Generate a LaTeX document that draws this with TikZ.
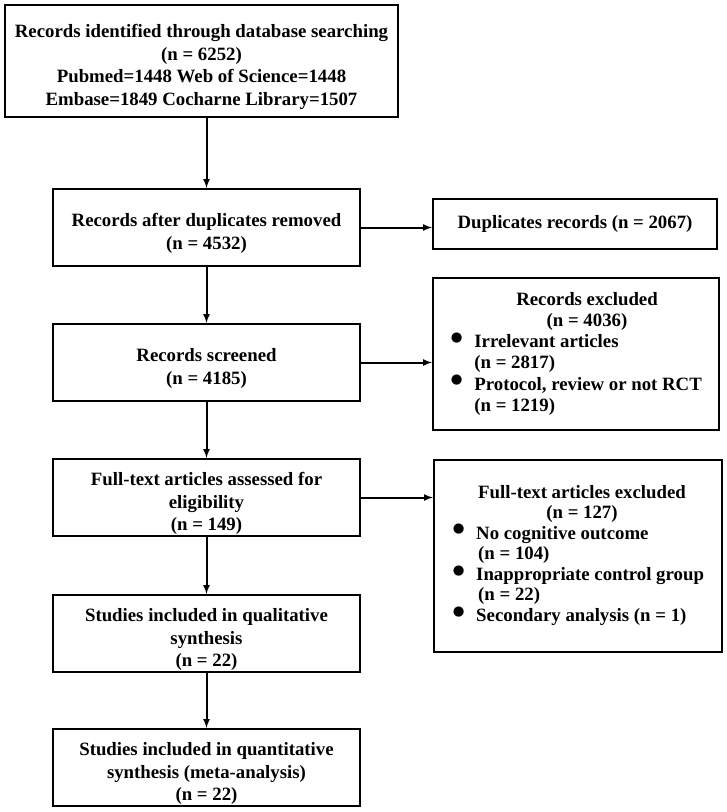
\documentclass[tikz,border=0pt]{standalone}
\usepackage{fontspec}
\setmainfont{Liberation Serif}
\usepackage{tikz}
\usetikzlibrary{arrows}
\newcommand{\blt}{\raisebox{-2.5bp}{\scalebox{2}{\textbullet}}}
\newcommand{\lift}{\rule{0pt}{25bp}}

\begin{document}
\begin{tikzpicture}[x=1bp,y=1bp]
        \tikzstyle{every node}+=[inner sep=0pt]
        \tikzstyle{box}=[draw=black, line width=2.2bp, align=center, font=\bfseries\fontsize{18.8bp}{22.6bp}\selectfont]
        \tikzstyle{stage}=[box, minimum width=307bp, minimum height=77bp]
        \tikzstyle{link}=[black, line width=2bp, -latex]
        \useasboundingbox (0,0) rectangle (727,-812);
        \node [box, minimum width=393bp, minimum height=112bp] (ident) at (201.5,-61) {\lift Records identified through database searching\\(n = 6252)\\Pubmed=1448 Web of Science=1448\\Embase=1849 Cocharne Library=1507};
        \node [stage] (dedup) at (206.5,-227.5) {\lift Records after duplicates removed\\(n = 4532)};
        \node [stage] (screen) at (206.5,-362.5) {\lift Records screened\\(n = 4185)};
        \node [stage] (full) at (206.5,-497.5) {\lift Full-text articles assessed for\\eligibility\\(n = 149)};
        \node [stage] (qual) at (206.5,-633.5) {\lift Studies included in qualitative\\synthesis\\(n = 22)};
        \node [stage] (quant) at (206.5,-767.5) {\lift Studies included in quantitative\\synthesis (meta-analysis)\\(n = 22)};
        \node [box, minimum width=284bp, minimum height=50bp] (dup) at (575,-224) {Duplicates records (n = 2067)};
        \node [box, minimum width=286bp, minimum height=152bp] (excl) at (576,-354) {\renewcommand{\arraystretch}{0.93}\begin{tabular}{@{}c@{\hspace{11bp}}l@{}}
                \multicolumn{2}{c}{\hspace*{22bp}Records excluded}\\
                \multicolumn{2}{c}{\hspace*{22bp}(n = 4036)}\\
                \blt & Irrelevant articles\\
                & (n = 2817)\\
                \blt & Protocol, review or not RCT\\
                & (n = 1219)
        \end{tabular}};
        \node [box, minimum width=288bp, minimum height=192bp] (fullex) at (578,-556) {\renewcommand{\arraystretch}{0.89}\begin{tabular}{@{}c@{\hspace{11bp}}l@{}}
                \multicolumn{2}{c}{\hspace*{8bp}Full-text articles excluded}\\
                \multicolumn{2}{c}{\hspace*{8bp}(n = 127)}\\
                \blt & No cognitive outcome\\
                & \hspace*{2bp}(n = 104)\\
                \blt & Inappropriate control group\\
                & \hspace*{2bp}(n = 22)\\
                \blt & Secondary analysis (n = 1)
        \end{tabular}};
        \draw [link] (dedup.north |- ident.south) -- (dedup.north);
        \draw [link] (dedup.south) -- (screen.north);
        \draw [link] (screen.south) -- (full.north);
        \draw [link] (full.south) -- (qual.north);
        \draw [link] (qual.south) -- (quant.north);
        \draw [link] (dedup.east) -- (dedup.east -| dup.west);
        \draw [link] (screen.east) -- (screen.east -| excl.west);
        \draw [link] (full.east) -- (full.east -| fullex.west);
\end{tikzpicture}
\end{document}
